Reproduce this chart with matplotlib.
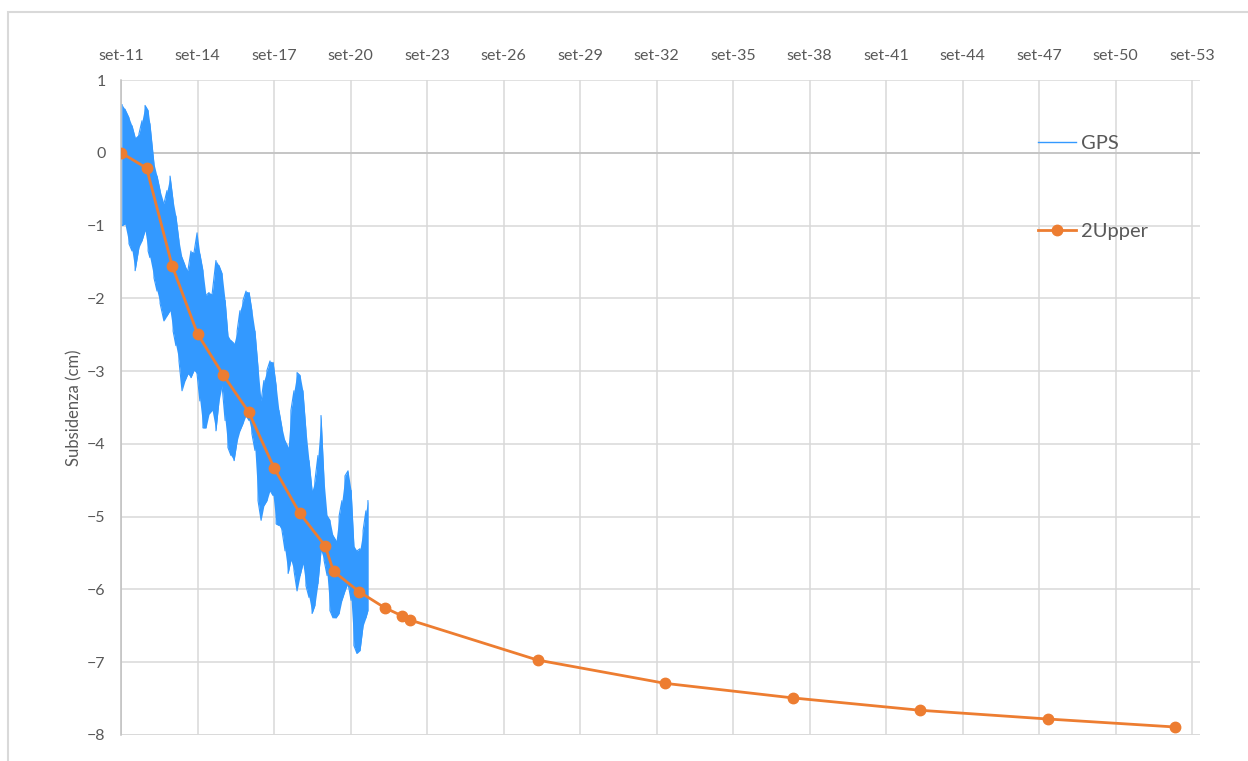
import numpy as np
import matplotlib.pyplot as plt
from matplotlib.ticker import FixedLocator, FuncFormatter
from matplotlib.patches import Rectangle

plt.rcParams['font.family'] = ['Lato', 'DejaVu Sans']

# ---------------- dati ----------------
# GPS: inviluppo (max / min) del segnale giornaliero, tempo in anni decimali
gps_t = [2011.71, 2011.82, 2011.98, 2012.10, 2012.22, 2012.37, 2012.49, 2012.61, 2012.73, 2012.80,
         2012.96, 2013.08, 2013.20, 2013.35, 2013.47, 2013.59, 2013.71, 2013.82, 2013.94, 2014.06,
         2014.18, 2014.29, 2014.41, 2014.53, 2014.65, 2014.76, 2014.88, 2015.00, 2015.12, 2015.24,
         2015.39, 2015.51, 2015.63, 2015.75, 2015.86, 2015.98, 2016.10, 2016.22, 2016.33, 2016.45,
         2016.57, 2016.69, 2016.80, 2016.92, 2017.04, 2017.16, 2017.27, 2017.39, 2017.51, 2017.63,
         2017.75, 2017.86, 2017.98, 2018.10, 2018.22, 2018.33, 2018.45, 2018.57, 2018.69, 2018.80,
         2018.92, 2019.04, 2019.16, 2019.27, 2019.39, 2019.51, 2019.63, 2019.75, 2019.86, 2019.98,
         2020.10, 2020.22, 2020.33, 2020.45, 2020.57, 2020.69, 2020.80, 2020.92, 2021.04, 2021.16,
         2021.27, 2021.35]
gps_max = [0.66, 0.60, 0.48, 0.37, 0.21, 0.26, 0.44, 0.65, 0.58, 0.40,
           -0.15, -0.32, -0.52, -0.70, -0.52, -0.32, -0.66, -0.87, -1.21, -1.44,
           -1.55, -1.62, -1.35, -1.37, -1.10, -1.39, -1.62, -1.96, -1.92, -1.94,
           -1.48, -1.55, -1.66, -2.03, -2.51, -2.58, -2.62, -2.45, -2.17, -2.03,
           -1.90, -1.92, -2.17, -2.45, -2.95, -3.41, -3.13, -2.99, -2.86, -2.88,
           -3.20, -3.54, -3.78, -3.96, -4.05, -3.54, -3.27, -3.02, -3.06, -3.27,
           -3.82, -4.23, -4.64, -4.51, -4.16, -3.61, -4.51, -4.99, -5.05, -5.26,
           -5.33, -4.99, -4.78, -4.44, -4.37, -4.64, -5.40, -5.47, -5.44, -5.19,
           -4.92, -4.78]
gps_min = [-1.00, -0.98, -1.25, -1.35, -1.62, -1.30, -1.21, -1.07, -1.35, -1.44,
           -1.72, -1.90, -2.07, -2.31, -2.24, -2.17, -2.45, -2.65, -2.86, -3.27,
           -3.13, -3.04, -3.09, -2.99, -3.04, -3.41, -3.78, -3.78, -3.59, -3.54,
           -3.82, -3.41, -3.20, -3.68, -4.05, -4.16, -4.23, -3.96, -3.82, -3.72,
           -3.61, -3.68, -3.86, -4.09, -4.78, -5.05, -4.85, -4.78, -4.64, -4.71,
           -5.10, -5.12, -5.19, -5.47, -5.78, -5.60, -5.74, -6.02, -5.81, -5.65,
           -5.95, -6.11, -6.33, -6.22, -5.92, -5.47, -5.60, -5.81, -6.29, -6.39,
           -6.39, -6.33, -6.15, -6.02, -5.92, -6.15, -6.77, -6.88, -6.84, -6.50,
           -6.39, -6.29]

# modello 2Upper
up_t = [2011.67, 2012.67, 2013.67, 2014.67, 2015.67, 2016.67, 2017.67, 2018.67, 2019.67, 2020.00,
        2021.00, 2022.00, 2022.67, 2023.00, 2028.00, 2033.00, 2038.00, 2043.00, 2048.00, 2053.00]
up_v = [0.00, -0.21, -1.55, -2.49, -3.05, -3.56, -4.33, -4.95, -5.40, -5.75,
        -6.03, -6.25, -6.36, -6.42, -6.97, -7.29, -7.49, -7.66, -7.78, -7.89]

# etichette asse x: settembre ogni 3 anni
tick_years = list(range(2011, 2054, 3))
tick_pos = [y + 8 / 12 for y in tick_years]

# ---------------- grafico ----------------
fig = plt.figure(figsize=(12.48, 7.61), dpi=100)
ax = fig.add_axes([121 / 1248, 1 - 735 / 761, (1200 - 121) / 1248, (735 - 80) / 761])

# bordo dell'area grafico
fig.patches.append(Rectangle((8 / 1248, -0.1), 1.2, 1 - 12 / 761 + 0.1,
                             transform=fig.transFigure, fill=False,
                             edgecolor='#d9d9d9', lw=1.5))

# GPS: banda piena + tratti verticali alternati
gt = np.array(gps_t)
ax.fill_between(gt, gps_min, gps_max, color='#3399ff', lw=0, zorder=2)
zx, zy = [], []
for i in range(len(gt)):
    a, b = (gps_max[i], gps_min[i]) if i % 2 == 0 else (gps_min[i], gps_max[i])
    zx += [gt[i], gt[i]]
    zy += [a, b]
ax.plot(zx, zy, color='#3399ff', lw=0.8, zorder=2)
ax.plot([], [], color='#3399ff', lw=1, label='GPS')

ax.plot(up_t, up_v, color='#ed7d31', lw=2, marker='o', markersize=7.5,
        label='2Upper', zorder=3)

ax.set_xlim(tick_pos[0], 2053.98)
ax.set_ylim(-8, 1)
ax.set_yticks(range(-8, 2))
ax.xaxis.set_major_locator(FixedLocator(tick_pos))
ax.xaxis.set_major_formatter(FuncFormatter(
    lambda v, p: 'set-%02d' % (int(round(v - 8 / 12)) % 100)))
ax.xaxis.tick_top()
ax.tick_params(axis='x', length=0, pad=12, labelsize=11.5, labelcolor='#595959')
ax.tick_params(axis='y', length=0, pad=11, labelsize=11.5, labelcolor='#595959')

ax.grid(True, color='#d9d9d9', lw=1.1, zorder=0)
ax.set_axisbelow(True)
for s in ['top', 'right', 'bottom']:
    ax.spines[s].set_visible(False)
ax.spines['left'].set_color('#bfbfbf')
ax.spines['left'].set_linewidth(1.1)
ax.axhline(0, color='#bfbfbf', lw=1.1, zorder=1)
ax.axhline(-8, color='#d9d9d9', lw=1.1, zorder=1)

ax.set_ylabel('Subsidenza (cm)', fontsize=12, color='#595959')
ax.yaxis.set_label_coords(-39 / 1079, 0.5)

ax.legend(loc='upper left', bbox_to_anchor=(1020 / 1248, 1 - 117 / 761),
          bbox_transform=fig.transFigure, frameon=False, fontsize=14.5,
          labelcolor='#595959', handlelength=1.9, handletextpad=0.25,
          labelspacing=3.5)

fig.savefig('out.png', dpi=100, facecolor='white')
